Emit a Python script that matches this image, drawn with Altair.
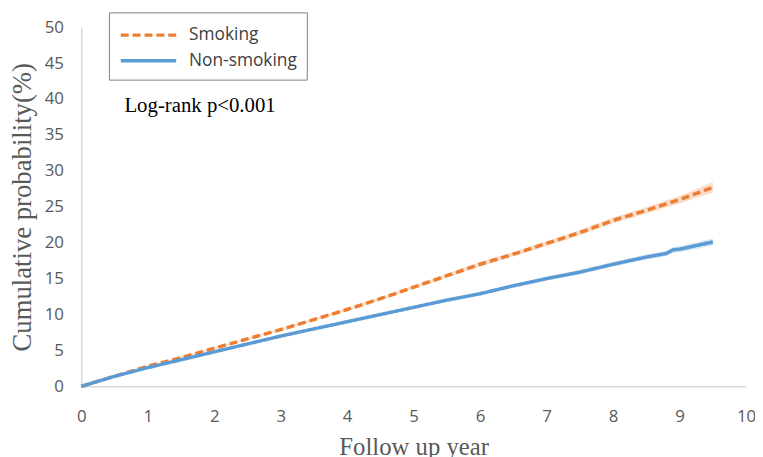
import altair as alt
import pandas as pd

years = [0, 0.5, 1, 1.5, 2, 2.5, 3, 3.5, 4, 4.5, 5, 5.5, 6, 6.5, 7, 7.5, 8, 8.5, 8.8, 8.9, 9, 9.5]
smoking = [0, 1.4, 2.8, 4.0, 5.3, 6.6, 7.9, 9.3, 10.7, 12.2, 13.8, 15.4, 17.0, 18.4, 19.9, 21.4, 23.1, 24.5, 25.4, 25.7, 26.0, 27.7]
non_smoking = [0, 1.4, 2.6, 3.7, 4.8, 5.9, 7.0, 8.0, 9.0, 10.0, 11.0, 12.0, 12.9, 14.0, 15.0, 15.9, 17.0, 18.0, 18.5, 19.0, 19.1, 20.1]
smoking_ci = [0, 0.05, 0.08, 0.1, 0.12, 0.14, 0.16, 0.18, 0.2, 0.22, 0.25, 0.27, 0.3, 0.32, 0.35, 0.38, 0.4, 0.45, 0.5, 0.5, 0.55, 0.7]
non_smoking_ci = [0, 0.04, 0.06, 0.08, 0.1, 0.11, 0.12, 0.14, 0.16, 0.18, 0.2, 0.22, 0.24, 0.26, 0.28, 0.3, 0.32, 0.35, 0.38, 0.4, 0.42, 0.5]
groups = ["Smoking", "Non-smoking"]
colors = ["#ED7D31", "#5B9BD5"]

rows = []
for g, vals, ci in [(groups[0], smoking, smoking_ci), (groups[1], non_smoking, non_smoking_ci)]:
    for t, v, c in zip(years, vals, ci):
        rows.append({"year": t, "prob": v, "lo": v - c, "hi": v + c, "group": g})
df = pd.DataFrame(rows)

xscale = alt.Scale(domain=[0, 10], nice=False)
yscale = alt.Scale(domain=[0, 50], nice=False)

x_axis = alt.Axis(
    values=list(range(0, 11)), format="d", labelOverlap=False, labelFlush=False,
    title="Follow up year", grid=False, ticks=False,
    domainColor="#d9d9d9", domainWidth=1.5, labelFont="Open Sans", labelFontSize=17,
    labelColor="#595959", labelPadding=23, titleFont="Liberation Serif", titleFontSize=25,
    titleFontWeight="normal", titleColor="#595959", titlePadding=10,
)
y_axis = alt.Axis(
    values=list(range(0, 51, 5)), format="d", labelOverlap=False, labelFlush=False,
    title="Cumulative probability(%)", grid=False, ticks=False,
    domainColor="#d9d9d9", domainWidth=1.5, labelFont="Open Sans", labelFontSize=17,
    labelColor="#595959", labelPadding=18, titleFont="Liberation Serif", titleFontSize=27,
    titleFontWeight="normal", titleColor="#595959", titlePadding=8,
)

legend = alt.Legend(
    title=None, orient="none", legendX=28, legendY=-15, direction="vertical",
    strokeColor="#7f7f7f", padding=10, symbolType="M-1,0H4.09", symbolSize=484,
    symbolStrokeWidth=3.5, symbolOpacity=1, labelFont="Open Sans", labelFontSize=17.5,
    labelColor="#404040", rowPadding=4, labelOffset=45, cornerRadius=0,
    fillColor="white",
)
color_scale = alt.Scale(domain=groups, range=colors)

base = alt.Chart(df)

band = base.mark_area(fillOpacity=0.25).encode(
    x=alt.X("year:Q", scale=xscale, axis=x_axis),
    y=alt.Y("lo:Q", scale=yscale, axis=y_axis),
    y2="hi:Q",
    color=alt.Color("group:N", scale=color_scale, legend=None),
    detail="group:N",
)

lines = base.mark_line(strokeWidth=3.5).encode(
    x=alt.X("year:Q", scale=xscale, axis=x_axis),
    y=alt.Y("prob:Q", scale=yscale, axis=y_axis),
    color=alt.Color("group:N", scale=color_scale, legend=legend),
    strokeDash=alt.StrokeDash(
        "group:N", scale=alt.Scale(domain=groups, range=[[8, 4], [1, 0]]), legend=legend,
    ),
)

annot = alt.Chart(pd.DataFrame({"x": [0.65], "y": [39.0], "t": ["Log-rank p<0.001"]})).mark_text(
    font="Liberation Serif", fontSize=21, color="black", align="left", baseline="middle"
).encode(x=alt.X("x:Q", scale=xscale, axis=x_axis), y=alt.Y("y:Q", scale=yscale, axis=y_axis), text="t:N")

chart = alt.layer(band, lines, annot).resolve_legend(
    color="independent", strokeDash="independent"
).properties(
    width=672, height=363,
    autosize=alt.AutoSizeParams(type="none"),
    padding={"left": 74, "top": 17, "right": 9, "bottom": 70},
).configure_view(stroke=None)

chart.save("out.html", embed_options={"renderer": "svg", "actions": False})
